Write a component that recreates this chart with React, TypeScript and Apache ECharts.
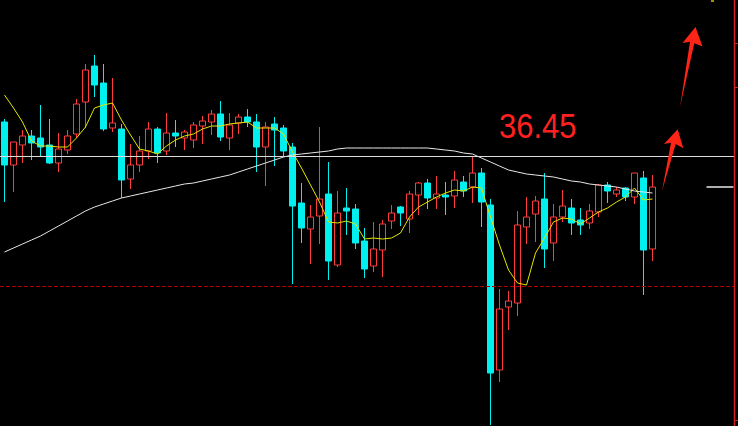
import React, { useEffect, useRef } from 'react';
import * as echarts from 'echarts';

const categories = Array.from({ length: 82 }, (_, i) => `${i + 1}`);

const opens = [
  37.56, 36.70, 37.10, 37.28, 37.24, 37.10, 36.74, 37.00, 37.32, 37.96,
  38.68, 38.34, 37.44, 37.42, 36.42, 36.70, 36.98, 37.42, 36.98, 37.34,
  37.24, 37.20, 37.48, 37.56, 37.72, 37.24, 37.54, 37.66, 37.56, 37.06,
  37.52, 37.44, 37.06, 35.94, 35.42, 35.68, 36.12, 34.70, 35.84, 35.82,
  35.18, 34.68, 35.00, 35.58, 35.86, 35.62, 36.10, 36.34, 36.04, 36.10,
  36.08, 36.36, 36.26, 36.54, 35.90, 32.60, 33.86, 33.94, 35.46, 35.72,
  36.02, 35.14, 35.66, 35.84, 35.60, 35.54, 35.76, 36.30, 36.12, 36.24,
  36.06, 36.44, 35.02,
];
const closes = [
  36.70, 37.16, 37.28, 37.14, 37.06, 36.74, 37.02, 37.28, 37.92, 38.60,
  38.30, 37.42, 37.54, 36.40, 36.70, 36.98, 37.42, 36.94, 37.34, 37.28,
  37.36, 37.50, 37.58, 37.72, 37.26, 37.50, 37.66, 37.56, 37.06, 37.46,
  37.40, 36.98, 35.88, 35.44, 35.66, 36.02, 34.78, 35.74, 35.78, 35.14,
  34.62, 35.02, 35.52, 35.74, 35.74, 36.12, 36.34, 36.04, 36.12, 36.06,
  36.40, 36.18, 36.54, 35.96, 32.54, 33.82, 33.98, 35.50, 35.66, 35.98,
  35.02, 35.66, 35.88, 35.54, 35.50, 35.78, 36.30, 36.18, 36.20, 36.06,
  36.54, 35.00, 36.26,
];
const lows = [
  35.96, 36.16, 36.74, 36.80, 36.88, 36.72, 36.56, 36.92, 37.24, 37.44,
  38.06, 37.38, 37.36, 36.04, 36.22, 36.56, 36.82, 36.74, 36.90, 37.06,
  37.00, 37.04, 37.12, 37.30, 37.18, 37.00, 37.32, 37.46, 36.56, 36.28,
  36.68, 36.86, 34.32, 35.14, 34.72, 35.12, 34.40, 34.66, 35.30, 35.02,
  34.44, 34.56, 34.46, 35.42, 35.48, 35.34, 35.70, 35.82, 35.82, 35.70,
  35.84, 36.06, 35.94, 35.46, 31.50, 32.36, 33.40, 33.68, 35.12, 35.16,
  34.64, 34.78, 35.56, 35.30, 35.30, 35.42, 35.66, 35.94, 36.06, 35.98,
  35.92, 34.10, 34.78,
];
const highs = [
  37.62, 37.16, 37.40, 37.40, 37.90, 37.62, 37.34, 37.40, 38.02, 38.72,
  38.90, 38.72, 38.44, 37.52, 37.12, 37.28, 37.56, 37.46, 37.74, 37.60,
  37.40, 37.56, 37.68, 37.80, 37.98, 37.74, 37.72, 37.82, 37.72, 37.56,
  37.66, 37.50, 37.14, 36.34, 35.90, 37.46, 36.76, 36.18, 36.24, 35.92,
  35.44, 35.56, 35.60, 35.90, 35.88, 36.18, 36.36, 36.42, 36.48, 36.36,
  36.58, 36.48, 36.88, 36.64, 36.02, 34.22, 34.18, 35.78, 36.06, 36.08,
  36.54, 35.92, 36.20, 36.02, 35.84, 35.92, 36.32, 36.36, 36.26, 36.26,
  36.54, 36.58, 36.50,
];
const maShort = [
  38.10, 37.84, 37.56, 37.18, 37.08, 37.08, 37.06, 37.06, 37.24, 37.46,
  37.84, 37.90, 37.94, 37.60, 37.30, 37.02, 36.98, 36.92, 37.08, 37.20,
  37.28, 37.32, 37.42, 37.48, 37.48, 37.52, 37.54, 37.56, 37.44, 37.44,
  37.44, 37.32, 36.96, 36.64, 36.30, 35.96, 35.56, 35.54, 35.58, 35.52,
  35.22, 35.24, 35.22, 35.24, 35.34, 35.66, 35.86, 35.96, 36.06, 36.14,
  36.20, 36.18, 36.26, 36.24, 35.66, 35.10, 34.60, 34.34, 34.30, 34.94,
  35.24, 35.56, 35.64, 35.62, 35.52, 35.64, 35.76, 35.84, 35.96, 36.06,
  36.24, 36.00, 36.02,
];
const maLong = [
  34.96, 35.04, 35.12, 35.20, 35.28, 35.38, 35.48, 35.58, 35.68, 35.78,
  35.86, 35.92, 35.98, 36.04, 36.08, 36.12, 36.16, 36.20, 36.24, 36.28,
  36.32, 36.34, 36.38, 36.42, 36.46, 36.50, 36.56, 36.62, 36.68, 36.74,
  36.80, 36.86, 36.90, 36.92, 36.94, 36.96, 36.98, 37.02, 37.04, 37.04,
  37.04, 37.04, 37.04, 37.04, 37.04, 37.04, 37.04, 37.04, 37.02, 37.00,
  36.98, 36.94, 36.92, 36.84, 36.76, 36.68, 36.60, 36.56, 36.52, 36.50,
  36.48, 36.46, 36.42, 36.38, 36.36, 36.32, 36.30, 36.28, 36.26, 36.22,
  36.18, 36.16, 36.14,
];

const referenceLevel = 36.88;
const supportLevel = 34.28;
const lastLevel = 36.26;
const priceLabel = '36.45';

export default function App() {
  const ref = useRef<HTMLDivElement>(null);
  useEffect(() => {
    const chart = echarts.init(ref.current!, null, { renderer: 'svg' });
    const candleData = opens.map((o, i) => [o, closes[i], lows[i], highs[i]]);
    chart.setOption({
      animation: false,
      backgroundColor: '#000000',
      grid: { left: 0, right: 0, top: 0, bottom: 0 },
      xAxis: { type: 'category', data: categories, boundaryGap: true, show: false },
      yAxis: { type: 'value', min: 31.48, max: 40, show: false, splitLine: { show: false } },
      series: [
        {
          type: 'candlestick',
          data: candleData,
          barWidth: 6,
          silent: true,
          itemStyle: {
            color: '#000000',
            color0: '#00f0f0',
            borderColor: '#ff3c3c',
            borderColor0: '#00f0f0',
            borderWidth: 1,
          },
          markLine: {
            silent: true,
            symbol: ['none', 'none'],
            label: { show: false },
            emphasis: { disabled: true },
            data: [
              { yAxis: referenceLevel, lineStyle: { color: '#dcdcdc', width: 1, type: 'solid' } },
              { yAxis: supportLevel, lineStyle: { color: '#b00000', width: 1, type: [4, 2] } },
              [
                { coord: [78, lastLevel], lineStyle: { color: '#e8e8e8', width: 1.5, type: 'solid' } },
                { coord: [81, lastLevel] },
              ],
            ],
          },
        },
        {
          type: 'line',
          data: maShort,
          symbol: 'none',
          silent: true,
          lineStyle: { color: '#e6e600', width: 1 },
          z: 3,
        },
        {
          type: 'line',
          data: maLong,
          symbol: 'none',
          silent: true,
          lineStyle: { color: '#e8e8e8', width: 1 },
          z: 3,
        },
      ],
      graphic: [
        { type: 'rect', z: 100, shape: { x: 735, y: 0, width: 3, height: 426 }, style: { fill: '#000000' } },
        { type: 'line', z: 101, shape: { x1: 734.5, y1: 0, x2: 734.5, y2: 426 }, style: { stroke: '#d42020', lineWidth: 1.5 } },
        { type: 'line', z: 101, shape: { x1: 735, y1: 43.5, x2: 738, y2: 43.5 }, style: { stroke: '#d42020', lineWidth: 1 } },
        { type: 'line', z: 101, shape: { x1: 735, y1: 87.5, x2: 738, y2: 87.5 }, style: { stroke: '#d42020', lineWidth: 1 } },
        { type: 'line', z: 101, shape: { x1: 735, y1: 420.5, x2: 738, y2: 420.5 }, style: { stroke: '#d42020', lineWidth: 1 } },
        { type: 'line', z: 101, shape: { x1: 711, y1: 1, x2: 714, y2: 1 }, style: { stroke: '#d4c000', lineWidth: 1.5 } },
        {
          type: 'polygon',
          z: 102,
          shape: { points: [[695.5, 27], [702.5, 46.5], [694.3, 43.3], [680, 107], [690, 41.7], [682.5, 43]] },
          style: { fill: '#ff2418' },
        },
        {
          type: 'polygon',
          z: 102,
          shape: { points: [[677.7, 129.3], [683.3, 148.3], [675.7, 144], [662, 191], [671, 142.7], [664, 144]] },
          style: { fill: '#ff2418' },
        },
        {
          type: 'text',
          z: 102,
          x: 499,
          y: 126,
          scaleX: 0.86,
          style: {
            text: priceLabel,
            fill: '#ff2020',
            fontSize: 36,
            fontFamily: '"Liberation Sans", Arial, sans-serif',
            align: 'left',
            verticalAlign: 'middle',
          },
        },
      ],
    });
    return () => chart.dispose();
  }, []);
  return (
    <div
      ref={ref}
      style={{ position: 'fixed', left: 0, top: 0, width: 738, height: 426, background: '#000' }}
    />
  );
}
